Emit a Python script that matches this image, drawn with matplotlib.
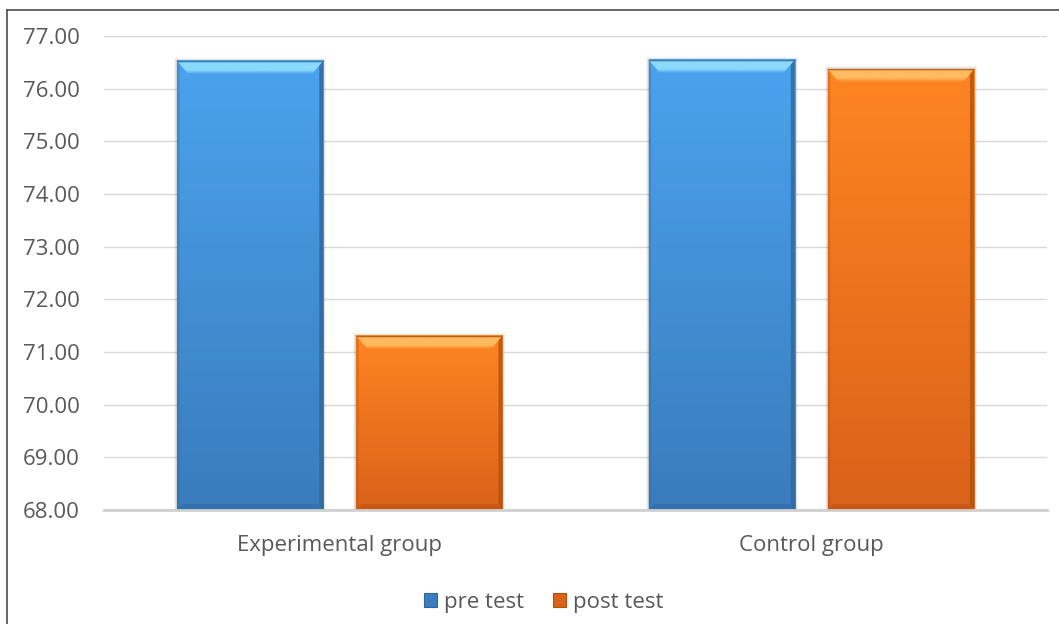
import numpy as np
import matplotlib.pyplot as plt
from matplotlib.colors import LinearSegmentedColormap
from matplotlib.patches import Polygon, Patch
from matplotlib.lines import Line2D

plt.rcParams['font.family'] = ['Open Sans', 'DejaVu Sans']

groups = ['Experimental group', 'Control group']
series = ['pre test', 'post test']
pre_test = [76.53, 76.55]
post_test = [71.31, 76.37]
yticks = [68, 69, 70, 71, 72, 73, 74, 75, 76, 77]

# (top, bottom, bevel top, bevel side) per series
palette = {
    'pre test': ('#4ba3ee', '#3a7cbc', '#8bdafc', '#2f679c'),
    'post test': ('#ff8522', '#d9621a', '#ffbb60', '#b3500f'),
}

fig = plt.figure(figsize=(10.59, 6.24), dpi=100)
ax = fig.add_axes([0.0982, 0.1827, 0.8905, 0.7596])

x = np.arange(len(groups))
w = 0.31
off = 0.19
bars_pre = ax.bar(x - off, pre_test, w, bottom=0, color='none')
bars_post = ax.bar(x + off, post_test, w, bottom=0, color='none')

ax.set_xlim(-0.5, 1.5)
ax.set_ylim(68, 77)
ymin = 68

# px -> data conversion for the bevel size
px_x = 1.0 / 472
px_y = 9.0 / 474


def draw_bar(rect, name):
    top_c, bot_c, hi_c, side_c = palette[name]
    x0 = rect.get_x()
    bw = rect.get_width()
    top = rect.get_height()
    x1 = x0 + bw
    bx, by = 11 * px_x, 13 * px_y

    # soft shadow
    for k, a in [(3, 0.04), (2, 0.06), (1, 0.08)]:
        ax.add_patch(Polygon([(x0 - k * px_x, ymin), (x1 + k * px_x, ymin),
                              (x1 + k * px_x, top + k * px_y), (x0 - k * px_x, top + k * px_y)],
                             closed=True, fc='black', ec='none', alpha=a, zorder=2))

    cmap = LinearSegmentedColormap.from_list('g', [bot_c, top_c])
    grad = np.linspace(0, 1, 256).reshape(-1, 1)
    ax.imshow(grad, cmap=cmap, extent=[x0, x1, ymin, top], origin='lower',
              aspect='auto', zorder=3, interpolation='bicubic')

    # top bevel: light band fading downward
    hcmap = LinearSegmentedColormap.from_list(
        'h', [(0, top_c), (0.3, hi_c), (0.88, hi_c), (1, side_c)])
    im = ax.imshow(np.linspace(0, 1, 64).reshape(-1, 1), cmap=hcmap,
                   extent=[x0, x1, top - by, top], origin='lower',
                   aspect='auto', zorder=4, interpolation='bicubic')
    tp = Polygon([(x0, top), (x1, top), (x1 - bx, top - by), (x0 + bx, top - by)],
                 closed=True, fc='none', ec='none', transform=ax.transData)
    ax.add_patch(tp)
    im.set_clip_path(tp)

    # side and bottom bevels
    sx = 4 * px_x
    ax.add_patch(Polygon([(x1, top), (x1 - sx, top - by * 0.4), (x1 - sx, ymin + by * 0.4),
                          (x1, ymin)], closed=True, fc=side_c, ec='none', alpha=0.8, zorder=5))
    ax.add_patch(Polygon([(x0, top), (x0 + sx * 0.6, top - by * 0.3), (x0 + sx * 0.6, ymin + by * 0.3),
                          (x0, ymin)], closed=True, fc=side_c, ec='none', alpha=0.35, zorder=5))
    ax.add_patch(Polygon([(x0, ymin), (x1, ymin), (x1 - bx * 0.5, ymin + 6 * px_y),
                          (x0 + bx * 0.5, ymin + 6 * px_y)], closed=True, fc=side_c, ec='none',
                         alpha=0.45, zorder=5))
    ax.plot([x0, x1], [top, top], color=side_c, lw=0.8, alpha=0.5, zorder=6)


for r in bars_pre:
    draw_bar(r, 'pre test')
for r in bars_post:
    draw_bar(r, 'post test')

ax.set_xlim(-0.5, 1.5)
ax.set_ylim(68, 77)

ax.set_yticks(yticks)
ax.set_yticklabels([f'{v:.2f}' for v in yticks])
ax.set_xticks(x)
ax.set_xticklabels(groups)
ax.tick_params(axis='both', length=0, labelsize=16, colors='#595959')
ax.tick_params(axis='y', pad=17.5)
ax.tick_params(axis='x', pad=18)

ax.grid(axis='y', color='#d9d9d9', lw=1)
ax.set_axisbelow(True)
for s in ['top', 'right', 'left']:
    ax.spines[s].set_visible(False)
ax.spines['bottom'].set_color('#d0d0d0')
ax.spines['bottom'].set_linewidth(2)
ax.spines['bottom'].set_zorder(7)

handles = [Patch(facecolor=palette[s][1], edgecolor=palette[s][3], lw=0.8) for s in series]
fig.legend(handles, series, loc='center', bbox_to_anchor=(0.513, 0.035), ncol=2,
           frameon=False, fontsize=16, labelcolor='#595959', handlelength=0.6,
           handleheight=0.6, handletextpad=0.3, columnspacing=1.3)

# chart area border (left and top edges)
fig.add_artist(Line2D([7 / 1059, 7 / 1059], [0, 1 - 10 / 624], color='#4d4d4d', lw=1.2))
fig.add_artist(Line2D([7 / 1059, 1], [1 - 10 / 624, 1 - 10 / 624], color='#4d4d4d', lw=1.2))

fig.savefig('out.png', dpi=100)
